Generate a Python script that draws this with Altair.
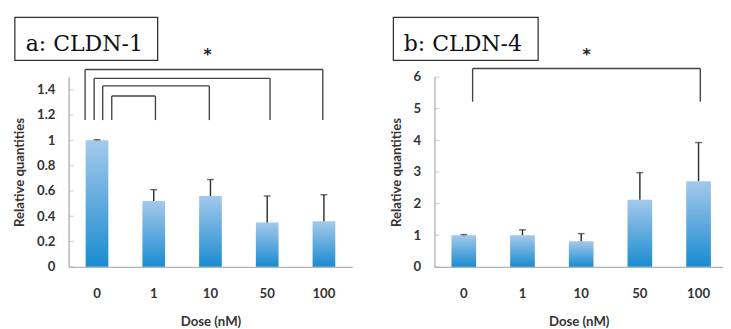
import altair as alt
import pandas as pd

doses = ["0", "1", "10", "50", "100"]

# panel a: CLDN-1
a_vals = [1.0, 0.52, 0.56, 0.35, 0.36]
a_err = [1.005, 0.61, 0.69, 0.56, 0.57]
a_ticks = [0, 0.2, 0.4, 0.6, 0.8, 1, 1.2, 1.4]
a_br_left = [0.29, 0.45, 0.60, 0.76]
a_br_right = [4.48, 3.55, 2.48, 1.53]
a_br_top = [1.56, 1.49, 1.43, 1.35]
a_br_bottom = [1.16, 1.16, 1.16, 1.16]
a_star = [2.45, 1.67]

# panel b: CLDN-4
b_vals = [1.0, 1.0, 0.81, 2.12, 2.71]
b_err = [1.02, 1.17, 1.05, 2.98, 3.93]
b_ticks = [0, 1, 2, 3, 4, 5, 6]
b_br_left = [0.65]
b_br_right = [4.53]
b_br_top = [6.27]
b_br_bottom = [5.22]
b_star = [2.59, 6.7]

FONT = "Lato"
SERIF = "DejaVu Serif"
GRAD = alt.Gradient(
    gradient="linear",
    stops=[alt.GradientStop(color="#a4c9eb", offset=0),
           alt.GradientStop(color="#1a8bd0", offset=1)],
    x1=0, x2=0, y1=0, y2=1,
)


def panel(label, vals, errs, ymax, ticks, bl, br, bt, bb, star,
          width, xscale, qmax, box, text_x):
    height = 194
    df = pd.DataFrame({"dose": doses, "v": vals, "e": errs})
    ysc = alt.Scale(domain=[0, ymax], nice=False, zero=True)
    xaxis = alt.Axis(title="Dose (nM)", ticks=False, labelAngle=0,
                     labelPadding=20, titlePadding=16,
                     domainColor="#b4b4b4", domainWidth=1.4)
    xenc = alt.X("dose:N", sort=doses, scale=xscale, axis=xaxis)
    yaxis = alt.Axis(title="Relative quantities", values=ticks,
                     ticks=False, grid=False, labelPadding=14,
                     titlePadding=10, labelExpr="'' + datum.value",
                     labelOverlap=False,
                     domainColor="#b4b4b4", domainWidth=1.4)
    bars = alt.Chart(df).mark_bar(color=GRAD).encode(
        x=xenc, y=alt.Y("v:Q", scale=ysc, axis=yaxis))
    err = alt.Chart(df).mark_rule(color="#333333", strokeWidth=1.5).encode(
        x=xenc, y=alt.Y("v:Q", scale=ysc, axis=yaxis), y2="e:Q")
    cap = alt.Chart(df).mark_tick(color="#333333", thickness=1.5, size=7).encode(
        x=xenc, y=alt.Y("e:Q", scale=ysc, axis=yaxis))
    tdf = pd.DataFrame({"t": ticks})
    yt = alt.Chart(tdf).mark_tick(color="#b4b4b4", thickness=1, size=5).encode(
        y=alt.Y("t:Q", scale=ysc, axis=yaxis), x=alt.value(2.5))
    main = alt.layer(bars, err, cap, yt)

    qsc = alt.Scale(domain=[0, qmax], nice=False, zero=False)
    legs = pd.DataFrame({"x": bl + br, "y1": bb + bb, "y2": bt + bt})
    tops = pd.DataFrame({"x": bl, "x2": br, "y": bt})
    legs_c = alt.Chart(legs).mark_rule(color="#444444", strokeWidth=1.4).encode(
        x=alt.X("x:Q", scale=qsc, axis=None),
        y=alt.Y("y1:Q", scale=ysc, axis=yaxis), y2="y2:Q")
    tops_c = alt.Chart(tops).mark_rule(color="#444444", strokeWidth=1.4).encode(
        x=alt.X("x:Q", scale=qsc, axis=None), x2="x2:Q",
        y=alt.Y("y:Q", scale=ysc, axis=yaxis))
    sdf = pd.DataFrame({"x": [star[0]], "y": [star[1]], "s": ["*"]})
    star_c = alt.Chart(sdf).mark_text(fontSize=16, fontWeight="bold",
                                      font="DejaVu Sans", baseline="middle",
                                      color="#222222").encode(
        x=alt.X("x:Q", scale=qsc, axis=None),
        y=alt.Y("y:Q", scale=ysc, axis=yaxis), text="s:N")
    ann = alt.layer(legs_c, tops_c, star_c)

    ldf = pd.DataFrame({"label": [label]})
    box_c = alt.Chart(ldf).mark_rect(fill="white", stroke="#333333",
                                     strokeWidth=1.3).encode(
        x=alt.value(box[0]), x2=alt.value(box[1]),
        y=alt.value(box[2]), y2=alt.value(box[3]))
    txt_c = alt.Chart(ldf).mark_text(font=SERIF, fontSize=22.5,
                                     align="center", baseline="alphabetic",
                                     color="#111111").encode(
        x=alt.value(text_x), y=alt.value(-27), text="label:N")

    return alt.layer(main, ann, box_c, txt_c).resolve_scale(
        x="independent").properties(width=width, height=height)


left = panel("a: CLDN-1", a_vals, a_err, 1.5, a_ticks,
             a_br_left, a_br_right, a_br_top, a_br_bottom, a_star,
             290, alt.Scale(paddingInner=0.6, paddingOuter=0.3), 5.0,
             (-55, 91, -61, -17), 16)
right = panel("b: CLDN-4", b_vals, b_err, 6, b_ticks,
              b_br_left, b_br_right, b_br_top, b_br_bottom, b_star,
              295, alt.Scale(paddingInner=0.58, paddingOuter=0.248, align=0.584),
              295 / 60, (-42, 106, -61, -17), 29)

chart = alt.hconcat(left, right, spacing=38).properties(
    padding={"left": 5, "top": 5, "right": 0, "bottom": 0}
).configure_view(stroke=None).configure_axis(
    labelFont=FONT, labelFontSize=13.5, labelFontWeight="bold",
    labelColor="#333333", titleFont=FONT, titleFontSize=13.5,
    titleFontWeight="bold", titleColor="#333333"
)

chart.save("out.html", embed_options={"renderer": "svg", "actions": False})
